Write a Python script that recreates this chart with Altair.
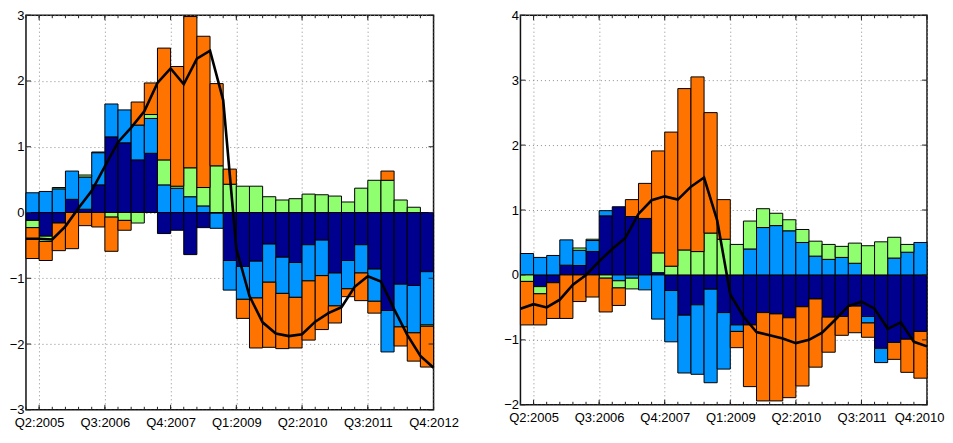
import json
import altair as alt
import pandas as pd

# ---------------- data ----------------
series_names = ["s1", "s2", "s3", "s4"]
series_colors = ["#00008F", "#0094FF", "#8FFF6F", "#FF7300"]

# left panel: 31 bars (Q2:2005 .. Q4:2012), 32 line points (Q1:2005 .. Q4:2012)
left_s1 = [-0.12, -0.36, -0.16, 0.20, 0.05, 0.42, 1.15, 1.06, 0.80, 0.90,
           -0.32, -0.27, -0.64, -0.23, -0.01, -0.73, -0.82, -0.74, -0.48, -0.68,
           -0.76, -0.49, -0.42, -0.92, -0.73, -0.49, -0.86, -1.49, -1.09, -1.11, -0.90]
left_s2 = [0.30, 0.32, 0.36, 0.43, 0.49, 0.49, 0.50, 0.50, 0.53, 0.53,
           0.42, 0.37, 0.24, 0.10, -0.23, -0.45, -0.50, -0.56, -0.58, -0.55,
           -0.53, -0.55, -0.54, -0.50, -0.43, -0.43, -0.49, -0.63, -0.65, -0.72, -0.81]
left_s3 = [-0.11, -0.08, 0.02, 0.0, 0.03, 0.01, -0.07, -0.12, -0.16, 0.06,
           0.38, 0.03, 0.44, 0.28, 0.71, 0.43, 0.40, 0.40, 0.24, 0.19,
           0.21, 0.28, 0.27, 0.25, 0.16, 0.37, 0.49, 0.49, 0.19, 0.08, -0.02]
left_s4 = [-0.47, -0.29, -0.42, -0.55, -0.20, -0.22, -0.52, -0.15, 0.35, 0.48,
           1.70, 1.82, 2.30, 2.30, 1.25, 0.23, -0.29, -0.76, -0.99, -0.84,
           -0.77, -0.90, -0.82, -0.26, -0.12, -0.42, -0.18, 0.14, -0.29, -0.43, -0.62]
left_line = [-0.40, -0.40, -0.41, -0.21, 0.07, 0.33, 0.70, 1.07, 1.29, 1.54,
             1.97, 2.19, 1.95, 2.34, 2.46, 1.71, -0.55, -1.27, -1.67, -1.84,
             -1.88, -1.85, -1.66, -1.53, -1.44, -1.13, -0.97, -1.05, -1.47, -1.86,
             -2.18, -2.36]
left_labels = ["Q2:2005", "Q3:2006", "Q4:2007", "Q1:2009", "Q2:2010", "Q3:2011", "Q4:2012"]
left_yticks = [-3, -2, -1, 0, 1, 2, 3]

# right panel
right_s1 = [0.0, -0.18, -0.12, 0.15, 0.145, 0.36, 0.91, 1.05, 0.90, 0.87,
            0.035, -0.24, -0.62, -0.46, -0.22, -0.58, -0.77, -0.77, -0.58, -0.60,
            -0.66, -0.49, -0.37, -0.65, -0.64, -0.48, -0.64, -1.13, -1.04, -0.99, -0.87]
right_s2 = [0.33, 0.27, 0.30, 0.39, 0.235, 0.17, 0.08, -0.09, -0.05, -0.23,
            -0.68, -0.79, -0.89, -1.07, -1.44, -0.87, -0.10, 0.40, 0.73, 0.76,
            0.68, 0.50, 0.29, 0.24, 0.27, 0.18, -0.10, -0.22, 0.26, 0.35, 0.50]
right_s3 = [-0.10, -0.11, 0.0, 0.0, 0.035, 0.02, -0.05, -0.11, -0.165, 0.0,
            0.305, 0.135, 0.385, 0.36, 0.645, 0.55, 0.47, 0.43, 0.29, 0.19,
            0.17, 0.20, 0.23, 0.23, 0.17, 0.31, 0.45, 0.51, 0.32, 0.12, 0.0]
right_s4 = [-0.67, -0.48, -0.55, -0.67, -0.41, -0.34, -0.52, -0.27, 0.26, 0.54,
            1.57, 2.065, 2.485, 2.69, 1.855, 0.61, -0.25, -0.95, -1.36, -1.34,
            -1.23, -1.22, -1.05, -0.54, -0.29, -0.41, -0.22, 0.0, -0.26, -0.51, -0.72]
right_line = [-0.52, -0.45, -0.50, -0.38, -0.15, 0.00, 0.21, 0.40, 0.57, 0.94,
              1.15, 1.21, 1.16, 1.36, 1.50, 0.84, -0.30, -0.64, -0.88, -0.93,
              -0.98, -1.05, -1.00, -0.89, -0.69, -0.48, -0.41, -0.52, -0.83, -0.73,
              -1.03, -1.10]
right_labels = ["Q2:2005", "Q3:2006", "Q4:2007", "Q1:2009", "Q2:2010", "Q3:2011", "Q4:2010"]
right_yticks = [-2, -1, 0, 1, 2, 3, 4]

major_x = [1, 6, 11, 16, 21, 26, 31]
minor_x = list(range(32))

FONT = "Liberation Sans"
GRID = dict(grid=True, gridColor="#8c8c8c", gridDash=[1, 3], gridWidth=1)


def panel(s_list, line, labels, yticks, w, h, flush_last):
    rows = []
    for s, vals in enumerate(s_list):
        for i, v in enumerate(vals):
            rows.append({"bar": i + 1, "x0": i, "x1": i + 1,
                         "series": series_names[s], "ord": s, "value": v})
    bars_df = pd.DataFrame(rows)
    line_df = pd.DataFrame({"q": list(range(len(line))), "value": line})

    xscale = alt.Scale(domain=[0, 31], nice=False, zero=False)
    yscale = alt.Scale(domain=[yticks[0], yticks[-1]], nice=False, zero=False)
    label_expr = json.dumps(labels) + "[round((datum.value - 1) / 5)]"
    flush_kw = dict(labelFlush=True, labelFlushOffset=17) if flush_last else dict(labelFlush=False)
    xaxis = alt.Axis(values=major_x, labelExpr=label_expr, ticks=False, domain=False,
                     title=None, labelPadding=7, labelFontSize=13, labelFont=FONT,
                     labelColor="black", labelOverlap=False, **flush_kw, **GRID)
    yaxis = alt.Axis(values=yticks, format="d", ticks=False, domain=False, title=None,
                     labelPadding=2, labelFontSize=13, labelFont=FONT, labelColor="black",
                     minExtent=16, maxExtent=16, labelOverlap=False, **GRID)

    bars = alt.Chart(bars_df).transform_filter("datum.value != 0").transform_stack(
        stack="value", groupby=["bar"], as_=["y0", "y1"],
        sort=[alt.SortField("ord", "ascending")], offset="zero"
    ).mark_bar(stroke="black", strokeWidth=1, opacity=1).encode(
        x=alt.X("x0:Q", scale=xscale, axis=xaxis),
        x2="x1:Q",
        y=alt.Y("y0:Q", scale=yscale, axis=yaxis),
        y2="y1:Q",
        color=alt.Color("series:N", scale=alt.Scale(domain=series_names, range=series_colors),
                        legend=None),
    )

    ln = alt.Chart(line_df).mark_line(color="black", strokeWidth=2.6, strokeJoin="miter").encode(
        x=alt.X("q:Q", scale=xscale, axis=xaxis),
        y=alt.Y("value:Q", scale=yscale, axis=yaxis),
    )

    minor_df = pd.DataFrame({"q": minor_x})
    major_df = pd.DataFrame({"q": major_x})
    ytick_df = pd.DataFrame({"v": yticks})
    tick_col = "#222222"
    ticks = []
    for df, L in ((minor_df, 3), (major_df, 5)):
        for ya, yb in ((0, L), (h, h - L)):
            ticks.append(alt.Chart(df).mark_rule(color=tick_col, strokeWidth=1).encode(
                x=alt.X("q:Q", scale=xscale, axis=xaxis),
                y=alt.value(ya), y2=alt.value(yb)))
    for xa, xb in ((0, 5), (w, w - 5)):
        ticks.append(alt.Chart(ytick_df).mark_rule(color=tick_col, strokeWidth=1).encode(
            y=alt.Y("v:Q", scale=yscale, axis=yaxis),
            x=alt.value(xa), x2=alt.value(xb)))

    return alt.layer(bars, ln, *ticks).properties(width=w, height=h)


left = panel([left_s1, left_s2, left_s3, left_s4], left_line, left_labels, left_yticks,
             408, 395, False)
right = panel([right_s1, right_s2, right_s3, right_s4], right_line, right_labels, right_yticks,
              407, 390, True)

chart = alt.hconcat(left, right, spacing=87, bounds="flush").properties(
    padding={"left": 0, "top": 0, "right": 0, "bottom": 0},
    background="white",
).configure_view(stroke="#111111", strokeWidth=1.5).configure_axis(
    labelFontSize=13, labelFont=FONT, labelColor="black"
)

chart.save("out.html", embed_options={"renderer": "svg", "actions": False})
